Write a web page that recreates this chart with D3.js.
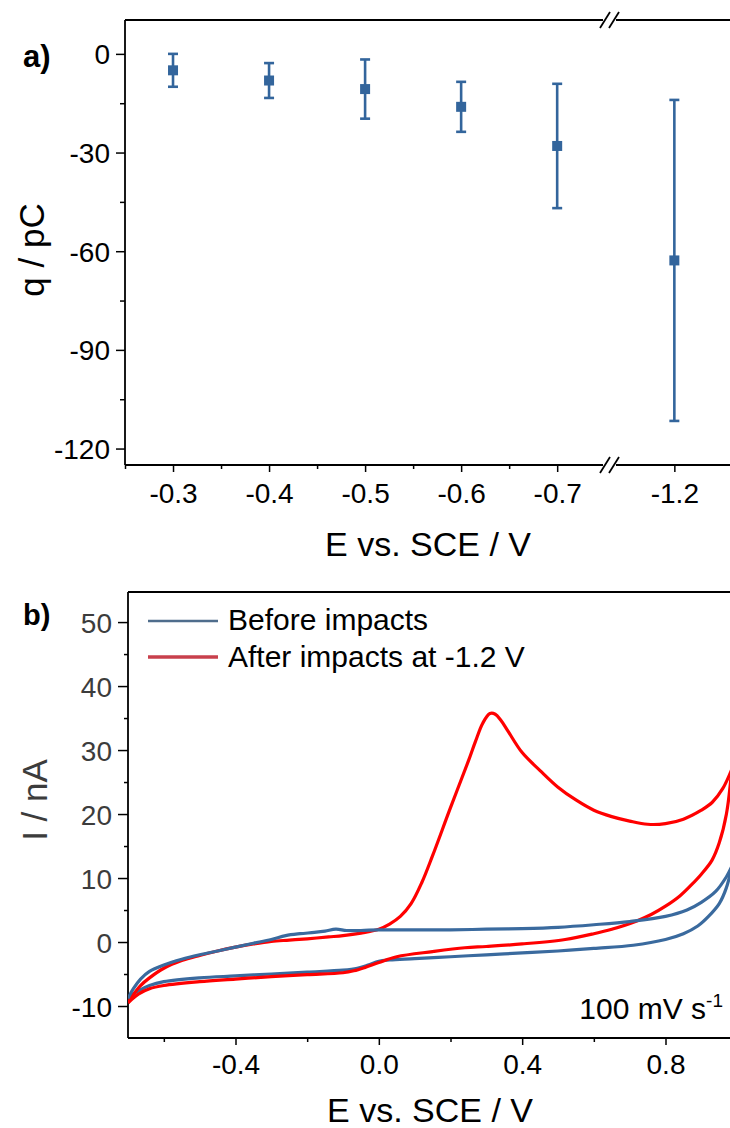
<!DOCTYPE html>
<html>
<head>
<meta charset="utf-8">
<script src="https://cdnjs.cloudflare.com/ajax/libs/d3/7.8.5/d3.min.js"></script>
<style>
body { margin: 0; background: #fff; }
svg { display: block; font-family: "Liberation Sans", Arial, sans-serif; }
.axis text { font-family: "Liberation Sans", Arial, sans-serif; fill: #000; }
</style>
</head>
<body>
<svg width="730" height="1128"></svg>
<script>
// panel a: charge vs potential
var potential = [-0.3, -0.4, -0.5, -0.6, -0.7, -1.2];
var chargeMean = [-5.0, -8.1, -10.7, -16.1, -28.0, -62.8];
var chargeErr = [5.0, 5.3, 9.0, 7.6, 18.9, 48.8];
var qTicks = [0, -30, -60, -90, -120];
var qMinor = [-15, -45, -75, -105];
var eTicksA = [-0.3, -0.4, -0.5, -0.6, -0.7];
var eMinorA = [-0.25, -0.35, -0.45, -0.55, -0.65];
var eTicksA2 = [-1.2];

// panel b: cyclic voltammograms [E (V), I (nA)]
var beforeFwd = [[-0.70,-8.8],[-0.685,-7.3],[-0.665,-5.8],[-0.64,-4.6],[-0.60,-3.6],[-0.55,-2.7],
  [-0.50,-2.0],[-0.45,-1.4],[-0.40,-0.8],[-0.35,-0.2],[-0.30,0.4],[-0.26,1.0],[-0.22,1.3],
  [-0.18,1.5],[-0.15,1.7],[-0.12,2.0],[-0.09,1.8],[-0.05,1.8],[0.0,1.9],[0.1,1.9],[0.2,1.9],
  [0.3,2.0],[0.4,2.1],[0.5,2.3],[0.6,2.7],[0.7,3.2],[0.8,4.0],[0.86,5.0],[0.9,6.2],
  [0.94,7.9],[0.97,10.2],[0.985,11.8]];
var beforeRev = [[0.985,11.8],[0.97,8.5],[0.95,6.0],[0.92,4.0],[0.89,2.5],[0.85,1.3],[0.8,0.4],
  [0.71,-0.5],[0.6,-1.0],[0.5,-1.4],[0.4,-1.7],[0.3,-2.0],[0.2,-2.3],[0.1,-2.6],[0.03,-2.8],
  [0.0,-3.0],[-0.03,-3.6],[-0.06,-4.1],[-0.1,-4.4],[-0.2,-4.7],[-0.3,-5.0],[-0.4,-5.3],
  [-0.5,-5.6],[-0.6,-6.2],[-0.64,-6.8],[-0.67,-7.6],[-0.69,-8.3],[-0.70,-8.8]];
var afterFwd = [[-0.70,-9.5],[-0.685,-8.2],[-0.665,-6.8],[-0.64,-5.6],[-0.60,-4.1],[-0.55,-2.9],
  [-0.50,-2.1],[-0.45,-1.4],[-0.40,-0.8],[-0.35,-0.3],[-0.30,0.1],[-0.25,0.3],[-0.2,0.5],
  [-0.14,0.8],[-0.1,1.0],[-0.05,1.4],[0.0,2.0],[0.03,2.8],[0.06,4.0],[0.09,6.0],[0.12,9.3],
  [0.15,13.5],[0.2,21.0],[0.25,28.3],[0.27,31.4],[0.29,34.2],[0.31,35.7],[0.325,35.6],
  [0.34,34.7],[0.36,33.0],[0.40,29.6],[0.45,26.8],[0.50,24.2],[0.55,22.2],[0.60,20.6],[0.65,19.6],
  [0.70,18.9],[0.75,18.4],[0.80,18.5],[0.85,19.2],[0.90,20.6],[0.93,21.8],[0.96,24.0],[0.985,27.0]];
var afterRev = [[0.985,27.0],[0.97,20.0],[0.95,15.5],[0.93,12.8],[0.90,10.6],[0.87,8.8],
  [0.84,7.2],[0.80,5.6],[0.76,4.3],[0.72,3.3],[0.65,2.0],[0.60,1.3],[0.52,0.4],[0.4,-0.3],
  [0.3,-0.7],[0.24,-0.9],[0.15,-1.5],[0.05,-2.3],[0.0,-3.2],[-0.04,-4.0],[-0.07,-4.5],
  [-0.1,-4.8],[-0.2,-5.1],[-0.3,-5.4],[-0.4,-5.8],[-0.5,-6.2],[-0.6,-6.8],[-0.64,-7.3],
  [-0.67,-8.1],[-0.69,-9.0],[-0.70,-9.5]];
var iTicks = [-10, 0, 10, 20, 30, 40, 50];
var iMinor = [-5, 5, 15, 25, 35, 45];
var eTicksB = [-0.4, 0.0, 0.4, 0.8];
var eMinorB = [-0.6, -0.2, 0.2, 0.6];

var blueA = "#33659c";
var blueB = "#3a6a9e";
var redB = "#ff0000";

// plain hyphen instead of d3's unicode minus
var fmt1 = function(d) { return d.toFixed(1); };
var fmt0 = function(d) { return String(d); };

var svg = d3.select("svg");

// ---------- panel a ----------
var ya = d3.scaleLinear().domain([-125, 10.3]).range([465, 20]);
var xa1 = d3.scaleLinear().domain([-0.25, -0.755]).range([125, 610]);
var xa2 = d3.scaleLinear().domain([-1.133, -1.31]).range([610, 780]);
function xa(v) { return v > -0.9 ? xa1(v) : xa2(v); }

var ga = svg.append("g");

// y axis
var yAxA = ga.append("g").attr("class", "axis").attr("transform", "translate(125,0)")
  .call(d3.axisLeft(ya).tickValues(qTicks).tickSize(9).tickPadding(6).tickFormat(fmt0));
yAxA.selectAll("text").style("font-size", "28px").attr("dy", "0.36em");
ga.append("g").attr("transform", "translate(125,0)")
  .call(d3.axisLeft(ya).tickValues(qMinor).tickSize(5).tickFormat(""));

// x axis
var xAxA = ga.append("g").attr("class", "axis").attr("transform", "translate(0,465)")
  .call(d3.axisBottom(xa1).tickValues(eTicksA).tickSize(7).tickFormat(fmt1));
ga.append("g").attr("transform", "translate(0,465)")
  .call(d3.axisBottom(xa1).tickValues(eMinorA).tickSize(4).tickFormat(""));
var xAxA2 = ga.append("g").attr("class", "axis").attr("transform", "translate(0,465)")
  .call(d3.axisBottom(xa2).tickValues(eTicksA2).tickSize(7).tickFormat(fmt1));
ga.selectAll(".domain").remove();
[xAxA, xAxA2].forEach(function(ax) {
  ax.selectAll("text").style("font-size", "28px").attr("dy", null).attr("y", 38);
});

// spines with break
var spine = ga.append("g").attr("stroke", "#000").attr("stroke-width", 1.8).attr("fill", "none");
spine.append("line").attr("x1", 125).attr("x2", 125).attr("y1", 20).attr("y2", 465);
[20, 465].forEach(function(y) {
  spine.append("line").attr("x1", 125).attr("x2", 603).attr("y1", y).attr("y2", y);
  spine.append("line").attr("x1", 616).attr("x2", 730).attr("y1", y).attr("y2", y);
  [605, 614].forEach(function(x) {
    spine.append("line").attr("x1", x - 5).attr("y1", y + 8).attr("x2", x + 5).attr("y2", y - 8);
  });
});

// error bars + markers
var ptsA = potential.map(function(p, i) { return {e: p, q: chargeMean[i], err: chargeErr[i]}; });
var eb = ga.append("g").attr("stroke", blueA).attr("stroke-width", 2.6);
eb.selectAll(".bar").data(ptsA).enter().append("line")
  .attr("x1", function(d) { return xa(d.e); }).attr("x2", function(d) { return xa(d.e); })
  .attr("y1", function(d) { return ya(d.q + d.err); }).attr("y2", function(d) { return ya(d.q - d.err); });
eb.selectAll(".capT").data(ptsA).enter().append("line")
  .attr("x1", function(d) { return xa(d.e) - 5; }).attr("x2", function(d) { return xa(d.e) + 5; })
  .attr("y1", function(d) { return ya(d.q + d.err); }).attr("y2", function(d) { return ya(d.q + d.err); });
eb.selectAll(".capB").data(ptsA).enter().append("line")
  .attr("x1", function(d) { return xa(d.e) - 5; }).attr("x2", function(d) { return xa(d.e) + 5; })
  .attr("y1", function(d) { return ya(d.q - d.err); }).attr("y2", function(d) { return ya(d.q - d.err); });
ga.selectAll("rect.pt").data(ptsA).enter().append("rect")
  .attr("x", function(d) { return xa(d.e) - 5; }).attr("y", function(d) { return ya(d.q) - 5; })
  .attr("width", 10).attr("height", 10).attr("fill", blueA);

// labels
ga.append("text").attr("x", 23).attr("y", 67).style("font-size", "31px").style("font-weight", "bold").text("a)");
ga.append("text").attr("transform", "translate(44,250) rotate(-90)").attr("text-anchor", "middle")
  .style("font-size", "35px").text("q / pC");
ga.append("text").attr("x", 428).attr("y", 556).attr("text-anchor", "middle")
  .style("font-size", "34px").text("E vs. SCE / V");

// ---------- panel b ----------
var xb = d3.scaleLinear().domain([-0.7, 0.98]).range([128, 730]);
var yb = d3.scaleLinear().domain([-15, 54.7]).range([1038, 592]);
var gb = svg.append("g");

svg.append("clipPath").attr("id", "clipb").append("rect")
  .attr("x", 128).attr("y", 592).attr("width", 602).attr("height", 446);

var yAxB = gb.append("g").attr("class", "axis").attr("transform", "translate(128,0)")
  .call(d3.axisLeft(yb).tickValues(iTicks).tickSize(10).tickPadding(6).tickFormat(fmt0));
yAxB.selectAll("text").style("font-size", "28px").attr("dy", "0.36em")
  .style("fill", function(d) { return d >= 0 ? "#3c3c3c" : "#000"; });
gb.append("g").attr("transform", "translate(128,0)")
  .call(d3.axisLeft(yb).tickValues(iMinor).tickSize(4).tickFormat(""));
var xAxB = gb.append("g").attr("class", "axis").attr("transform", "translate(0,1038)")
  .call(d3.axisBottom(xb).tickValues(eTicksB).tickSize(7).tickFormat(fmt1));
xAxB.selectAll("text").style("font-size", "28px").attr("dy", null).attr("y", 36);
gb.append("g").attr("transform", "translate(0,1038)")
  .call(d3.axisBottom(xb).tickValues(eMinorB).tickSize(4).tickFormat(""));
gb.selectAll(".domain").remove();
svg.selectAll(".tick line").attr("stroke", "#000").attr("stroke-width", 1.5);

var spineB = gb.append("g").attr("stroke", "#000").attr("stroke-width", 1.8);
spineB.append("line").attr("x1", 128).attr("x2", 730).attr("y1", 592).attr("y2", 592);
spineB.append("line").attr("x1", 128).attr("x2", 730).attr("y1", 1038).attr("y2", 1038);
spineB.append("line").attr("x1", 128).attr("x2", 128).attr("y1", 592).attr("y2", 1038);

var line = d3.line().x(function(d) { return xb(d[0]); }).y(function(d) { return yb(d[1]); })
  .curve(d3.curveCatmullRom);
var curves = gb.append("g").attr("clip-path", "url(#clipb)").attr("fill", "none")
  .attr("stroke-width", 3.2).attr("stroke-linejoin", "round");
[[beforeRev, blueB], [afterRev, redB], [afterFwd, redB], [beforeFwd, blueB]].forEach(function(c) {
  curves.append("path").datum(c[0]).attr("d", line).attr("stroke", c[1]);
});

// legend
var leg = gb.append("g");
leg.append("line").attr("x1", 148).attr("x2", 218).attr("y1", 621).attr("y2", 621)
  .attr("stroke", "#4f6d8c").attr("stroke-width", 2.5);
leg.append("line").attr("x1", 148).attr("x2", 218).attr("y1", 657).attr("y2", 657)
  .attr("stroke", "#c8404c").attr("stroke-width", 3.5);
leg.append("text").attr("x", 228).attr("y", 630).style("font-size", "30px").text("Before impacts");
leg.append("text").attr("x", 228).attr("y", 667).style("font-size", "30px").text("After impacts at -1.2 V");

gb.append("text").attr("x", 23).attr("y", 625).style("font-size", "29px").style("font-weight", "bold").text("b)");
gb.append("text").attr("transform", "translate(47,800) rotate(-90)").attr("text-anchor", "middle")
  .style("font-size", "35px").style("fill", "#3c3c3c").text("I / nA");
gb.append("text").attr("x", 430).attr("y", 1122).attr("text-anchor", "middle")
  .style("font-size", "34px").text("E vs. SCE / V");

var rate = gb.append("text").attr("x", 723).attr("y", 1019).attr("text-anchor", "end").style("font-size", "30px");
rate.append("tspan").text("100 mV s");
rate.append("tspan").attr("dy", -12).style("font-size", "19px").text("-1");
</script>
</body>
</html>
